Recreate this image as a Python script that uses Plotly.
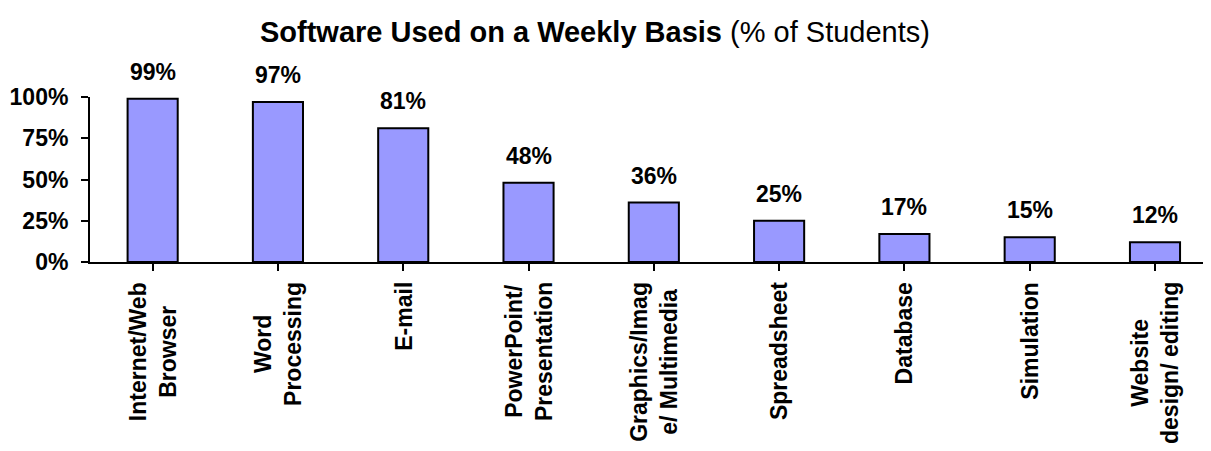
import plotly.graph_objects as go

# Data
software = ['Internet/Web<br>Browser', 'Word<br>Processing', 'E-mail',
            'PowerPoint/<br>Presentation', 'Graphics/Imag<br>e/ Multimedia',
            'Spreadsheet', 'Database', 'Simulation', 'Website<br>design/ editing']
pct_students = [99, 97, 81, 48, 36, 25, 17, 15, 12]
y_ticks = [0, 25, 50, 75, 100]

FONT = 'Liberation Sans, Arial, sans-serif'

fig = go.Figure()

fig.add_trace(go.Bar(
    x=list(range(len(software))),
    y=pct_students,
    width=0.4,
    marker=dict(color='#9999FF', line=dict(color='black', width=2)),
    hoverinfo='skip',
))

# value labels above bars
for i, v in enumerate(pct_students):
    fig.add_annotation(
        x=i, y=v, text=f'<b>{v}%</b>', showarrow=False,
        yanchor='bottom', yshift=12,
        font=dict(family=FONT, size=23, color='black'),
    )

# category labels, rotated, lines centred like the original
for i, s in enumerate(software):
    fig.add_annotation(
        x=i, y=0, text=f'<b>{s}</b>', showarrow=False,
        textangle=-90, align='center',
        xanchor='center', yanchor='top', yshift=-18,
        font=dict(family=FONT, size=23, color='black'),
    )

# page body has an 8px margin, so margins are offset by that
fig.update_layout(
    width=1211, height=451,
    margin=dict(l=82, r=8, t=89, b=197),
    plot_bgcolor='white', paper_bgcolor='white',
    showlegend=False,
    font=dict(family=FONT, color='black'),
    title=dict(
        text='<b>Software Used on a Weekly Basis</b> (% of Students)',
        x=0.4847, xanchor='center', xref='container',
        y=0.947, yanchor='middle', yref='container',
        font=dict(family=FONT, size=29, color='black'),
    ),
    xaxis=dict(
        range=[-0.5, 8.447],
        tickmode='array',
        tickvals=list(range(len(software))),
        ticktext=['' for s in software],
        tickson='boundaries',
        ticks='outside', ticklen=7, tickwidth=2, tickcolor='black',
        showline=True, linecolor='black', linewidth=2,
        showgrid=False, zeroline=False,
        automargin=False,
        fixedrange=True,
    ),
    yaxis=dict(
        range=[0, 100],
        tickmode='array',
        tickvals=y_ticks,
        ticktext=[f'<b>{t}%</b>' for t in y_ticks],
        ticks='outside', ticklen=7, tickwidth=2, tickcolor='black',
        ticklabelstandoff=8,
        showline=True, linecolor='black', linewidth=2,
        showgrid=False, zeroline=False,
        tickfont=dict(family=FONT, size=23, color='black'),
        automargin=False,
        fixedrange=True,
    ),
)

fig.write_html('out.html')
